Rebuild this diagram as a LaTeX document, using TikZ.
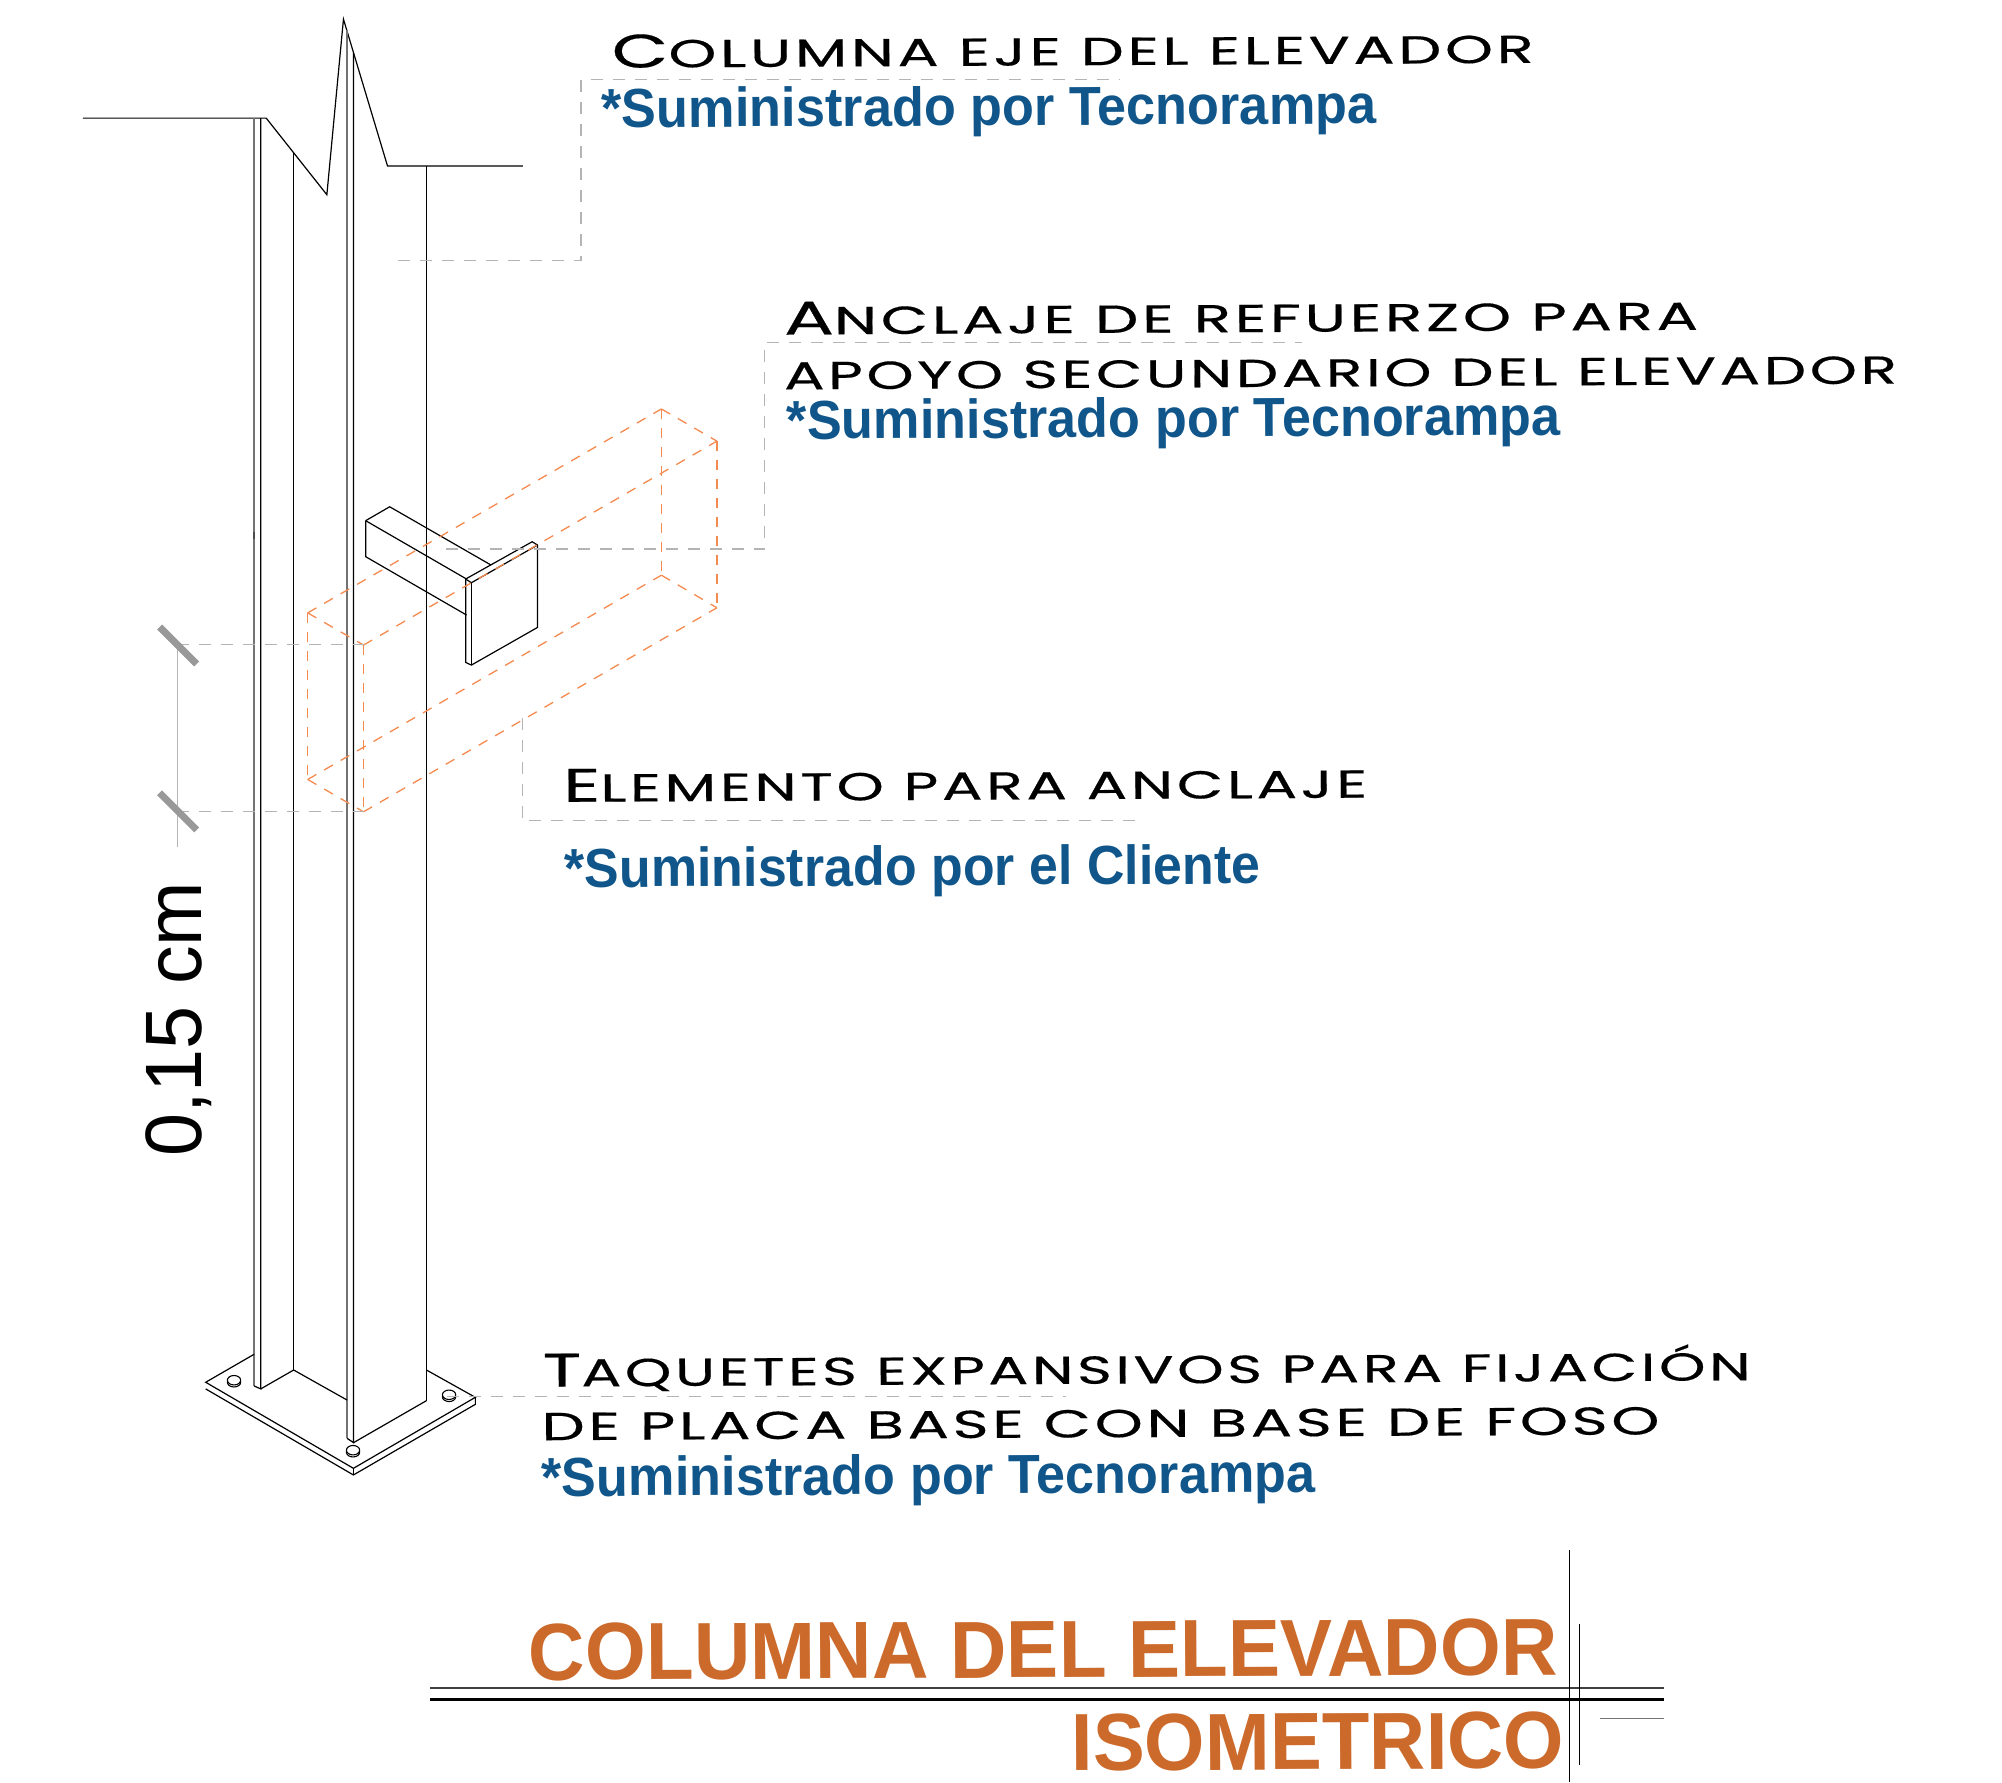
\documentclass[tikz,border=0pt]{standalone}
\usepackage{graphicx}
\usepackage{fontspec}
\setmainfont{Liberation Sans}
\newfontfamily\wf[LetterSpace=6,FakeBold=0.35]{Poppins}
\definecolor{bluet}{HTML}{10568A}
\definecolor{oranget}{HTML}{CC6A2B}
\definecolor{orangel}{HTML}{F58A4E}
\definecolor{leadgray}{HTML}{B4B4B4}
\newcommand{\WT}[3]{\resizebox{#1pt}{\height}{\wf{\fontsize{47}{47}\selectfont #2}{\fontsize{39}{39}\selectfont #3}}}
\newcommand{\BT}[2]{\resizebox{#1pt}{\height}{\fontsize{55}{55}\selectfont\bfseries #2}}
\newcommand{\TT}[2]{\resizebox{#1pt}{\height}{\fontsize{81}{81}\selectfont\bfseries #2}}
\tikzset{
  thinl/.style={line width=1.2pt,black},
  grayl/.style={line width=1.8pt,black!55},
  leader/.style={line width=1.3pt,leadgray,dash pattern=on 12pt off 10pt},
  boxl/.style={line width=1.3pt,orangel,dash pattern=on 10pt off 9pt},
  tick/.style={line width=7pt,black!40},
  lab/.style={anchor=base west,inner sep=0pt,rotate=0.3},
  bolt/.style={line width=1.1pt,black,fill=white},
}
\begin{document}
\begin{tikzpicture}[x=1.2768pt,y=-1.2768pt]
\useasboundingbox (0,0) rectangle (1568,1396.45);
% top break line
\draw[thinl] (65,92.5) -- (208.5,92.5) -- (256,152.5) -- (269,15) -- (303.5,130) -- (409.5,130);
% column
\draw[grayl] (199,92.5) -- (199,1085.5);
\draw[line width=2.6pt,black!70] (199,417) -- (199,422);
\draw[thinl] (204.2,92.5) -- (204.2,1087.8) -- (199,1085.5);
\draw[thinl] (230,119.6) -- (230,1073);
\draw[grayl] (271.8,23.7) -- (271.8,1126.5);
\draw[thinl] (276.9,41.5) -- (276.9,1129.9) -- (271.8,1126.5);
\draw[thinl] (334,130) -- (334,1097);
\draw[thinl] (204.2,1087.8) -- (230,1073) -- (271.8,1096.5);
\draw[thinl] (276.9,1129.9) -- (334,1097);
% base plate
\draw[thinl] (199,1060.7) -- (161.1,1082.6) -- (276.8,1150) -- (372.3,1094.4) -- (334,1073);
\draw[thinl] (161.1,1087.8) -- (276.8,1155.2) -- (372.3,1099.9) -- (372.3,1094.4);
\draw[thinl] (276.8,1150) -- (276.8,1155.2);
% bolts
\foreach \bx/\by in {183.3/1081,276.5/1135.8,351.7/1092.4}{
  \draw[bolt] (\bx,\by+1.6) ellipse (5.2 and 3.7);
  \draw[bolt] (\bx,\by) ellipse (5.2 and 3.7);
}
% bracket
\draw[thinl] (286.4,407.8) -- (305.2,396.9) -- (384.5,442.5);
\draw[thinl] (286.4,407.8) -- (365.4,453.5);
\draw[thinl] (286.4,407.8) -- (286.4,436) -- (365.4,481.7);
\draw[thinl] (364.7,453.5) -- (416.8,424.3) -- (421,426.9) -- (421,491.4) -- (369.2,520.9) -- (364.7,518.8) -- cycle;
\draw[thinl] (364.7,453.5) -- (369.2,456.4) -- (421,426.9);
\draw[thinl] (369.2,456.4) -- (369.2,520.9);
% dashed anchor-block
\coordinate (A) at (518,320.3); \coordinate (B) at (561.5,345.5);
\coordinate (C) at (241,480); \coordinate (D) at (284.7,505.2);
\coordinate (A2) at (518,450.5); \coordinate (B2) at (561.5,476);
\coordinate (C2) at (241,610.5); \coordinate (D2) at (284.7,635.8);
\foreach \p/\q in {C/A,D/B,C2/A2,D2/B2,C/C2,D/D2,A/A2,B/B2,A/B,C/D,A2/B2,C2/D2}{
  \draw[boxl] (\p) -- (\q);
}
% leaders
\draw[leader] (311.6,204) -- (455,204) -- (455,62) -- (877,62);
\draw[leader] (349,430) -- (599,430) -- (599,268) -- (1020,268);
\draw[leader] (409,562) -- (409,642.5) -- (895,642.5);
\draw[leader] (350,1094) -- (835,1094);
% dimension
\draw[leader] (139,505) -- (285,505);
\draw[leader] (139,635.5) -- (285,635.5);
\draw[line width=1.3pt,leadgray] (139,505) -- (139,663);
\draw[tick] (125,491) -- (154,520);
\draw[tick] (125,621) -- (154,650);
\node[anchor=base west,inner sep=0pt,rotate=90] (dim) at (158,906) {\resizebox{275pt}{\height}{\fontsize{80}{80}\selectfont 0,15 cm}};
% labels
\node[lab] (l1) at (479,53) {\WT{922}{C}{OLUMNA EJE DEL ELEVADOR}};
\node[lab,text=bluet] (b1) at (471,100) {\BT{775}{*Suministrado por Tecnorampa}};
\node[lab] (l2) at (614,262) {\WT{914}{A}{NCLAJE DE REFUERZO PARA}};
\node[lab] (l3) at (614,305) {\WT{1113}{}{APOYO SECUNDARIO DEL ELEVADOR}};
\node[lab,text=bluet] (b2) at (616,344) {\BT{774}{*Suministrado por Tecnorampa}};
\node[lab] (l4) at (441,628) {\WT{804}{E}{LEMENTO PARA ANCLAJE}};
\node[lab,text=bluet] (b3) at (442,695) {\BT{696}{*Suministrado por el Cliente}};
\node[lab] (l5) at (425,1086) {\WT{1208}{T}{AQUETES EXPANSIVOS PARA FIJACIÓN}};
\node[lab] (l6) at (424,1128) {\WT{1118}{}{DE PLACA BASE CON BASE DE FOSO}};
\node[lab,text=bluet] (b4) at (424,1172) {\BT{774}{*Suministrado por Tecnorampa}};
% title
\node[lab,text=oranget] (t1) at (414,1316) {\TT{1029}{COLUMNA DEL ELEVADOR}};
\node[lab,text=oranget] (t2) at (839,1387) {\TT{493}{ISOMETRICO}};
\draw[line width=1.2pt,black!75] (337,1322) -- (1303,1322);
\draw[line width=2.2pt,black] (337,1331) -- (1303,1331);
\draw[line width=1pt,black] (1229,1214) -- (1229,1396);
\draw[line width=1.6pt,black] (1237,1272) -- (1237,1382);
\draw[line width=1.4pt,black!55] (1253,1346) -- (1303,1346);
\end{tikzpicture}
\end{document}
